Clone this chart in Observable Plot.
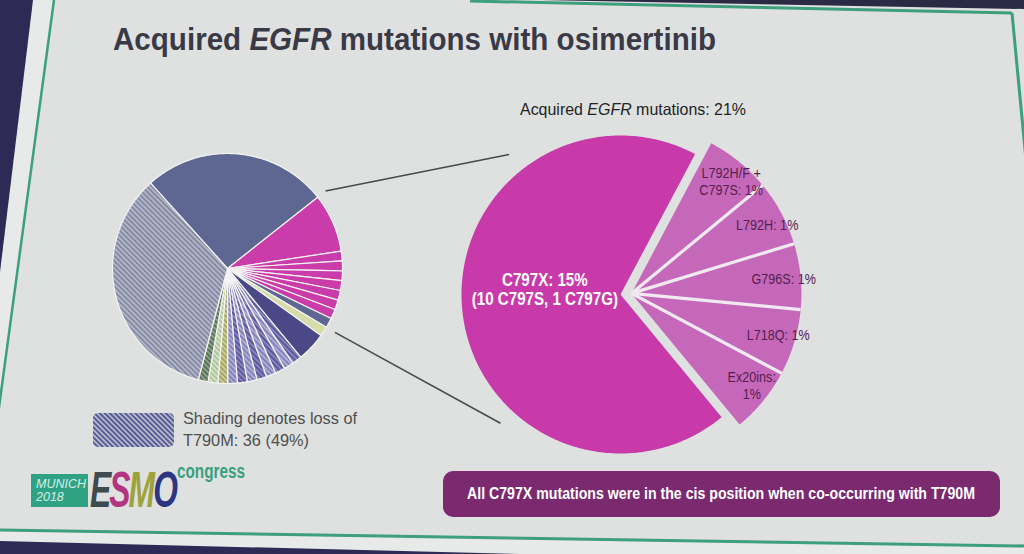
<!DOCTYPE html>
<html><head><meta charset="utf-8">
<script src="https://cdn.jsdelivr.net/npm/d3@7"></script>
<script src="https://cdn.jsdelivr.net/npm/@observablehq/plot@0.6"></script>
<style>
body{margin:0;background:#dee1e0;}
#slide{position:relative;width:1024px;height:554px;overflow:hidden;background:#dee1e0;font-family:"Liberation Sans",Arial,sans-serif;}
.fit{display:inline-block;white-space:nowrap;transform-origin:left top;}
#title{position:absolute;left:113px;top:21px;font-size:32px;font-weight:bold;color:#3a3a47;}
#subtitle{position:absolute;left:520px;top:100px;font-size:16.5px;color:#242424;}
#legend{position:absolute;left:92px;top:408px;}
#legend svg{position:absolute;left:0;top:4px;}
#legend .txt{position:absolute;left:91px;top:0;font-size:17px;line-height:22px;color:#4f4f4f;}
#munich{position:absolute;left:31px;top:474px;width:57px;height:33px;background:#2fa284;color:#d3f0e5;font-style:italic;font-size:12.5px;line-height:12.5px;padding:4px 0 0 5px;box-sizing:border-box;}
#esmo{position:absolute;left:90px;top:462px;font-size:50px;font-weight:bold;font-style:italic;letter-spacing:-3px;line-height:56px;}
#congress{position:absolute;left:177px;top:460px;font-size:20px;font-weight:bold;color:#3a9f7e;}
#banner{position:absolute;left:443px;top:471px;width:557px;height:46px;border-radius:10px;background:#7b2a6f;}
#bannerText{position:absolute;left:467px;top:484px;font-size:17px;font-weight:bold;color:#fff;}
</style></head>
<body>
<div id="slide">
<svg id="frame" width="1024" height="554" style="position:absolute;left:0;top:0">
  <polygon points="32,0 54,0 0,398 0,270" fill="#e7eae8"/>
  <polygon points="0,0 33,0 0,272" fill="#2d2a55"/>
  <polygon points="540,0 1024,0 1024,9" fill="#2b2944"/>
  <polygon points="0,531 1024,547 1024,554 0,554" fill="#e7eae8"/>
  <polygon points="0,541 0,554 520,554" fill="#2d2a55"/>
  <line x1="54" y1="0" x2="-20" y2="548" stroke="#3d9f7c" stroke-width="2.5"/>
  <line x1="470" y1="1" x2="1012" y2="13" stroke="#3d9f7c" stroke-width="3"/>
  <line x1="1012" y1="13" x2="1026" y2="160" stroke="#3d9f7c" stroke-width="3"/>
  <line x1="0" y1="530" x2="1024" y2="546" stroke="#3d9f7c" stroke-width="3"/>
</svg>
<div id="chart" style="position:absolute;left:0;top:0"></div>
<div id="title" class="fit" data-w="603">Acquired <i>EGFR</i> mutations with osimertinib</div>
<div id="subtitle" class="fit" data-w="226">Acquired <i>EGFR</i> mutations: 21%</div>
<div id="legend">
  <svg width="84" height="38"><defs><pattern id="hLegend" width="3.6" height="3.6" patternUnits="userSpaceOnUse" patternTransform="rotate(-45)"><rect width="3.6" height="3.6" fill="#c0c1d4"/><rect width="2" height="3.6" fill="#555a93"/></pattern></defs><rect x="1" y="1" width="81" height="34" rx="5" fill="url(#hLegend)"/></svg>
  <div class="txt fit" data-w="174">Shading denotes loss of<br>T790M: 36 (49%)</div>
</div>
<div id="munich">MUNICH<br>2018</div>
<div id="esmo" class="fit" data-w="86"><span style="color:#3d4a4e">E</span><span style="color:#b3357f">S</span><span style="color:#9ea23c">M</span><span style="color:#2d3583">O</span></div>
<div id="congress" class="fit" data-w="68">congress</div>
<div id="banner"></div>
<div id="bannerText" class="fit" data-w="508">All C797X mutations were in the cis position when co-occurring with T790M</div>
</div>
<script>
// ---------- data ----------
// Left pie: all patients (n = 73), slices in clockwise order
const leftGroups = ["slate","magenta","magenta","magenta","magenta","magenta","magenta","magenta","magenta",
  "slate","lime","navy","purple","lavender","purple","lavender","purple","lavender","purple","lavender",
  "olive","green","darkgreen","grey"];
const leftValues = [19,6,1,1,1,1,1,1,1, 1,1,3, 1,1,1,1,1,1,1,1, 1,1,1, 25];
// Right pie: acquired EGFR mutations
const rightCategories = ["L792H/F + C797S","L792H","G796S","L718Q","Ex20ins","C797X"];
const rightValues = [1,1,1,1,1,11];
const rightLabels = ["L792H/F +\nC797S: 1%","L792H: 1%","G796S: 1%","L718Q: 1%","Ex20ins:\n1%","C797X: 15%\n(10 C797S, 1 C797G)"];

// ---------- styles / layout ----------
const leftFill = {
  slate:"#5d6791", magenta:"#c93caa", lime:"#d6dca9", navy:"#4a4886",
  purple:"url(#hPurple)", lavender:"url(#hLav)", olive:"url(#hOlive)",
  green:"url(#hGreen)", darkgreen:"url(#hDark)", grey:"url(#hGrey)"
};
const W = 1024, H = 554, deg = Math.PI/180;
const LP = {cx:227, cy:268, r:115, start:-42};
const RP = {cx:620, cy:294, r:159, rSmall:170, start:28, explode:11};

function pieArcs(values, startDeg){
  return d3.pie().sort(null).value(d=>d)
    .startAngle(startDeg*deg).endAngle(startDeg*deg + 2*Math.PI)(values);
}
function slicePoints(id, fill, a0, a1, cx, cy, r){
  const pts = [{id, fill, x:cx, y:cy}];
  const n = Math.max(2, Math.ceil((a1-a0)/(0.5*deg)));
  for (let i=0;i<=n;i++){
    const a = a0 + (a1-a0)*i/n;
    pts.push({id, fill, x:cx + r*Math.sin(a), y:cy - r*Math.cos(a)});
  }
  pts.push({id, fill, x:cx, y:cy});
  return pts;
}

const leftArcs = pieArcs(leftValues, LP.start);
const leftPoly = leftArcs.flatMap((a,i)=>slicePoints("L"+i, leftFill[leftGroups[i]], a.startAngle, a.endAngle, LP.cx, LP.cy, LP.r));

const rightArcs = pieArcs(rightValues, RP.start);
const detail = rightCategories.map(c => c !== "C797X");
const dArcs = rightArcs.filter((a,i)=>detail[i]);
const groupMid = (dArcs[0].startAngle + dArcs[dArcs.length-1].endAngle)/2;
const ox = RP.explode*Math.sin(groupMid), oy = -RP.explode*Math.cos(groupMid);
const rightBig = [], rightSmall = [], rightText = [];
rightArcs.forEach((a,i)=>{
  const ex = detail[i];
  const cx = RP.cx + (ex?ox:0), cy = RP.cy + (ex?oy:0);
  const pts = slicePoints("R"+i, ex?"#c568ba":"#c83aa9", a.startAngle, a.endAngle, cx, cy, ex?RP.rSmall:RP.r);
  (ex?rightSmall:rightBig).push(...pts);
  const mid = (a.startAngle+a.endAngle)/2;
  const lr = ex ? 145 : 76;
  rightText.push({label:rightLabels[i], big:!ex,
    x: cx + lr*Math.sin(mid) + (ex?8:0), y: cy - lr*Math.cos(mid) + (ex?0:-13)});
});
// white separators between the detail slices
const separators = dArcs.slice(1).map(a=>({
  x1: RP.cx+ox, y1: RP.cy+oy,
  x2: RP.cx+ox + RP.rSmall*Math.sin(a.startAngle), y2: RP.cy+oy - RP.rSmall*Math.cos(a.startAngle)
}));

// connector lines from the EGFR slices of the left pie to the right pie
const cStart = [leftArcs[1].startAngle, leftArcs[9].endAngle];
const cEnd = [321.5*deg, 223*deg];
const cEndR = [RP.r+20, RP.r+17];
const connectors = cStart.map((a,i)=>({
  x1: LP.cx + (LP.r+10)*Math.sin(a), y1: LP.cy - (LP.r+10)*Math.cos(a),
  x2: RP.cx + cEndR[i]*Math.sin(cEnd[i]), y2: RP.cy - cEndR[i]*Math.cos(cEnd[i])
}));

const font = '"Liberation Sans",Arial,sans-serif';
const chart = Plot.plot({
  width: W, height: H, margin: 0,
  x: {domain:[0,W], axis:null},
  y: {domain:[0,H], axis:null, reverse:true},
  color: {type:"identity"},
  style: {background:"transparent", overflow:"visible"},
  marks: [
    Plot.line(leftPoly, {x:"x", y:"y", z:"id", fill:"fill", stroke:"#f4f4f4", strokeWidth:1.2, strokeLinejoin:"round"}),
    Plot.line(rightBig, {x:"x", y:"y", z:"id", fill:"fill", stroke:"none"}),
    Plot.line(rightSmall, {x:"x", y:"y", z:"id", fill:"fill", stroke:"none"}),
    Plot.link(separators, {x1:"x1", y1:"y1", x2:"x2", y2:"y2", stroke:"#f1e9f0", strokeWidth:3.2}),
    Plot.link(connectors, {x1:"x1", y1:"y1", x2:"x2", y2:"y2", stroke:"#4a4a4a", strokeWidth:1.6}),
    Plot.text(rightText.filter(d=>d.big), {x:"x", y:"y", text:"label", fill:"white", fontSize:18, fontWeight:"bold", fontFamily:font, lineHeight:1.1, className:"cond-big"}),
    Plot.text(rightText.filter(d=>!d.big), {x:"x", y:"y", text:"label", fill:"#55204f", fontSize:15, fontFamily:font, lineHeight:1.1, className:"cond-small"})
  ]
});
chart.insertAdjacentHTML("afterbegin", `<defs>
 <pattern id="hGrey" width="3.6" height="3.6" patternUnits="userSpaceOnUse" patternTransform="rotate(-45)"><rect width="3.6" height="3.6" fill="#b3b6c6"/><rect width="1.5" height="3.6" fill="#7c819e"/></pattern>
 <pattern id="hPurple" width="3.6" height="3.6" patternUnits="userSpaceOnUse" patternTransform="rotate(-45)"><rect width="3.6" height="3.6" fill="#8885be"/><rect width="1.6" height="3.6" fill="#555295"/></pattern>
 <pattern id="hLav" width="3.6" height="3.6" patternUnits="userSpaceOnUse" patternTransform="rotate(-45)"><rect width="3.6" height="3.6" fill="#b0aed6"/><rect width="1.5" height="3.6" fill="#7a77b3"/></pattern>
 <pattern id="hOlive" width="3.6" height="3.6" patternUnits="userSpaceOnUse" patternTransform="rotate(-45)"><rect width="3.6" height="3.6" fill="#cdcf98"/><rect width="1.5" height="3.6" fill="#9c9d5c"/></pattern>
 <pattern id="hGreen" width="3.6" height="3.6" patternUnits="userSpaceOnUse" patternTransform="rotate(-45)"><rect width="3.6" height="3.6" fill="#d5e2c4"/><rect width="1.5" height="3.6" fill="#a6bf98"/></pattern>
 <pattern id="hDark" width="3.6" height="3.6" patternUnits="userSpaceOnUse" patternTransform="rotate(-45)"><rect width="3.6" height="3.6" fill="#8fa38c"/><rect width="1.5" height="3.6" fill="#4e6650"/></pattern>
</defs>`);
document.getElementById("chart").appendChild(chart);

// condense SVG label text horizontally (narrow typeface look)
function condense(sel, k){
  chart.querySelectorAll(sel + " text").forEach(t=>{
    t.setAttribute("transform", (t.getAttribute("transform")||"") + ` scale(${k},1)`);
  });
}
condense(".cond-big", 0.84);
condense(".cond-small", 0.84);

// fit HTML texts to the widths measured on the reference
document.querySelectorAll(".fit").forEach(el=>{
  const w = el.getBoundingClientRect().width;
  el.style.transform = `scaleX(${(+el.dataset.w)/w})`;
});
</script>
</body></html>
